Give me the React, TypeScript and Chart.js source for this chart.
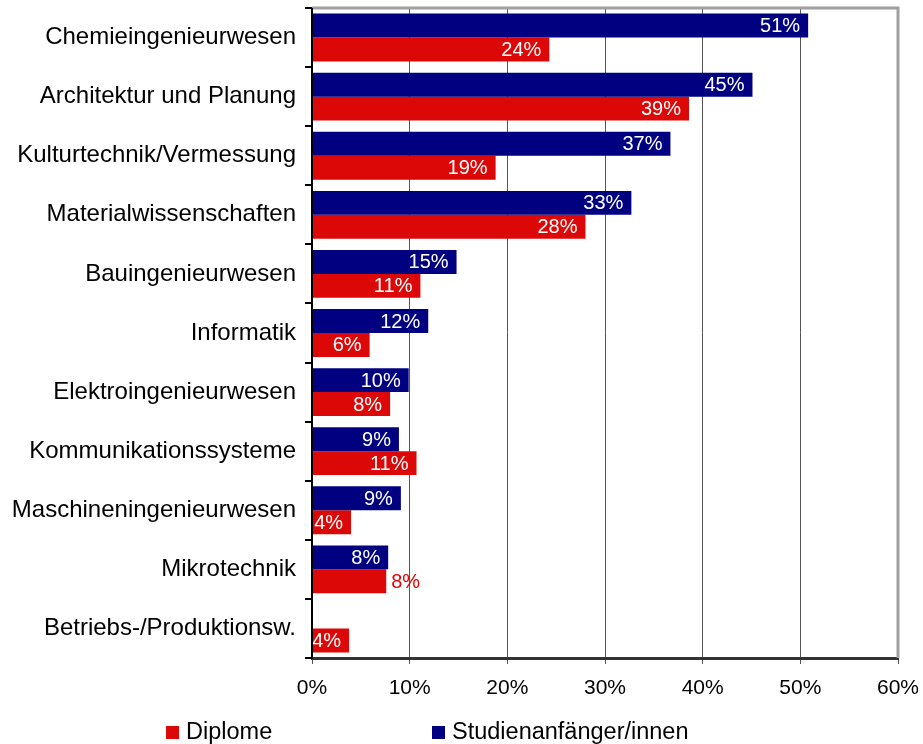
import React, { useEffect, useRef } from "react";
import { Chart, registerables } from "chart.js";

Chart.register(...registerables);

const categories = [
  "Chemieingenieurwesen",
  "Architektur und Planung",
  "Kulturtechnik/Vermessung",
  "Materialwissenschaften",
  "Bauingenieurwesen",
  "Informatik",
  "Elektroingenieurwesen",
  "Kommunikationssysteme",
  "Maschineningenieurwesen",
  "Mikrotechnik",
  "Betriebs-/Produktionsw.",
];

const studienanfaenger = [50.8, 45.1, 36.7, 32.7, 14.8, 11.9, 9.9, 8.9, 9.1, 7.8, null];
const diplome = [24.3, 38.6, 18.8, 28.0, 11.1, 5.9, 8.0, 10.7, 4.0, 7.6, 3.8];

const xTicks = [0, 10, 20, 30, 40, 50, 60];

// labels drawn outside of the bar (series name, category)
const outsideLabels = [["Diplome", "Mikrotechnik"]];

const NAVY = "#000080";
const RED = "#dc0808";
const FONT = "'Liberation Sans', Arial, sans-serif";

export default function App() {
  const ref = useRef<HTMLCanvasElement>(null);

  useEffect(() => {
    document.body.style.margin = "0";
    document.body.style.overflow = "hidden";
    const canvas = ref.current!;

    const labelPlugin = {
      id: "barLabels",
      afterDatasetsDraw(chart: any) {
        const ctx = chart.ctx;
        ctx.save();
        ctx.font = `20px ${FONT}`;
        ctx.textBaseline = "middle";
        chart.data.datasets.forEach((ds: any, di: number) => {
          const meta = chart.getDatasetMeta(di);
          meta.data.forEach((bar: any, i: number) => {
            const v = ds.data[i];
            if (v === null || v === undefined) return;
            const text = Math.round(v) + "%";
            const outside = outsideLabels.some(
              (o) => o[0] === ds.label && o[1] === categories[i]
            );
            if (outside) {
              ctx.fillStyle = ds.backgroundColor;
              ctx.textAlign = "left";
              ctx.fillText(text, bar.x + 5, bar.y + 1);
            } else {
              ctx.fillStyle = "#ffffff";
              ctx.textAlign = "right";
              ctx.fillText(text, bar.x - 8, bar.y + 1);
            }
          });
        });
        ctx.restore();
      },
    };

    const framePlugin = {
      id: "frame",
      afterDraw(chart: any) {
        const { ctx, chartArea } = chart;
        const { left, right, top, bottom } = chartArea;
        ctx.save();
        ctx.strokeStyle = "#a0a0a0";
        ctx.lineWidth = 3;
        ctx.beginPath();
        ctx.moveTo(left, top);
        ctx.lineTo(right, top);
        ctx.lineTo(right, bottom);
        ctx.stroke();
        ctx.strokeStyle = "#000000";
        ctx.lineWidth = 2;
        ctx.beginPath();
        ctx.moveTo(left, top);
        ctx.lineTo(left, bottom + 1);
        ctx.stroke();
        ctx.restore();

        // legend
        const items = [
          { label: "Diplome", color: RED, x: 166 },
          { label: "Studienanfänger/innen", color: NAVY, x: 432 },
        ];
        const ly = 732;
        ctx.save();
        ctx.font = `23.5px ${FONT}`;
        ctx.textBaseline = "middle";
        ctx.textAlign = "left";
        items.forEach((it) => {
          ctx.fillStyle = it.color;
          ctx.fillRect(it.x, ly - 6, 13, 13);
          ctx.fillStyle = "#000000";
          ctx.fillText(it.label, it.x + 20, ly + 1);
        });
        ctx.restore();
      },
    };

    const chart = new Chart(canvas, {
      type: "bar",
      data: {
        labels: categories,
        datasets: [
          {
            label: "Studienanfänger/innen",
            data: studienanfaenger,
            backgroundColor: NAVY,
            categoryPercentage: 0.81,
            barPercentage: 1.0,
          },
          {
            label: "Diplome",
            data: diplome,
            backgroundColor: RED,
            categoryPercentage: 0.81,
            barPercentage: 1.0,
          },
        ],
      },
      options: {
        indexAxis: "y",
        animation: false,
        responsive: false,
        maintainAspectRatio: false,
        layout: { padding: { top: 8, right: 25, bottom: 40, left: 0 } },
        plugins: {
          legend: { display: false },
          tooltip: { enabled: false },
        },
        scales: {
          x: {
            min: 0,
            max: 60,
            afterBuildTicks(scale: any) {
              scale.ticks = xTicks.map((v) => ({ value: v }));
            },
            afterFit(scale: any) {
              scale.height = 46;
              scale.paddingLeft = 0;
              scale.paddingRight = 0;
            },
            ticks: {
              callback: (v: any) => v + "%",
              color: "#000000",
              font: { family: FONT, size: 21 },
              padding: 12,
              maxRotation: 0,
            },
            grid: {
              color: "#555555",
              lineWidth: 1,
              tickLength: 6,
              drawOnChartArea: true,
            },
            border: { color: "#333333", width: 3 },
          },
          y: {
            afterFit(scale: any) {
              scale.width = 312;
              scale.paddingTop = 0;
              scale.paddingBottom = 0;
            },
            ticks: {
              color: "#000000",
              font: { family: FONT, size: 24 },
              padding: 9,
            },
            grid: {
              offset: true,
              drawOnChartArea: false,
              color: "#000000",
              tickLength: 7,
              lineWidth: 2,
            },
            border: { color: "#000000", width: 2 },
          },
        },
      },
      plugins: [labelPlugin, framePlugin],
    });

    return () => chart.destroy();
  }, []);

  return (
    <div style={{ width: 923, height: 744 }}>
      <canvas ref={ref} width={923} height={744} style={{ display: "block" }} />
    </div>
  );
}
